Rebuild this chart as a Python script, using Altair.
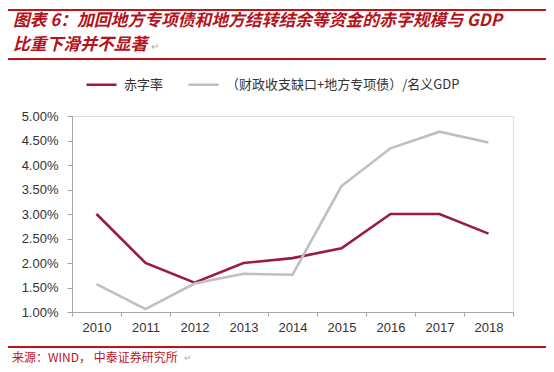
import altair as alt
import pandas as pd

years = ["2010", "2011", "2012", "2013", "2014", "2015", "2016", "2017", "2018"]
deficit_rate = [0.030, 0.020, 0.016, 0.020, 0.021, 0.023, 0.030, 0.030, 0.026]
broad_rate = [0.0157, 0.0106, 0.0158, 0.0178, 0.0176, 0.0357, 0.0434, 0.0468, 0.0446]
series_names = ["赤字率", "（财政收支缺口+地方专项债）/名义GDP"]
series_colors = ["#9B1B3F", "#BFBFBF"]
y_ticks = [0.01, 0.015, 0.02, 0.025, 0.03, 0.035, 0.04, 0.045, 0.05]

title1 = "图表 6：加回地方专项债和地方结转结余等资金的赤字规模与 GDP"
title2 = "比重下滑并不显著"
source = "来源：WIND， 中泰证券研究所"

rows = []
for name, vals in zip(series_names, [deficit_rate, broad_rate]):
    for y, v in zip(years, vals):
        rows.append({"year": y, "value": v, "series": name})
df = pd.DataFrame(rows)

one = pd.DataFrame({"k": [0]})

FONT_CJK = "Noto Sans CJK SC"
RED = "#C0141C"

lines = alt.Chart(df).mark_line(strokeWidth=2.6).encode(
    x=alt.X("year:O", sort=years,
            scale=alt.Scale(type="band", paddingInner=0, paddingOuter=0),
            axis=alt.Axis(title=None, labelAngle=0, tickBand="extent",
                          labelFont="Liberation Sans", labelFontSize=13,
                          labelColor="#333333", labelPadding=5, tickSize=4,
                          domainColor="#A6A6A6", tickColor="#A6A6A6")),
    y=alt.Y("value:Q",
            scale=alt.Scale(domain=[0.01, 0.05], nice=False, zero=False),
            axis=alt.Axis(title=None, values=y_ticks, format=".2%", grid=False,
                          labelFont="Liberation Sans", labelFontSize=13,
                          labelColor="#333333", labelPadding=9, tickSize=5,
                          domainColor="#A6A6A6", tickColor="#A6A6A6")),
    color=alt.Color("series:N",
                    scale=alt.Scale(domain=series_names, range=series_colors),
                    legend=alt.Legend(title=None, orient="none", direction="horizontal",
                                      legendX=13, legendY=-48,
                                      symbolType="stroke", symbolSize=900,
                                      symbolStrokeWidth=2.5, labelOffset=6,
                                      columnPadding=19, labelLimit=0,
                                      labelFont=FONT_CJK, labelFontSize=13,
                                      labelColor="#333333")),
    order=alt.Order("year:O"),
)

def rule(x1, x2, y, color=RED, w=2):
    return alt.Chart(one).mark_rule(color=color, strokeWidth=w).encode(
        x=alt.value(x1), x2=alt.value(x2), y=alt.value(y))

def text(s, x, y, size, color, weight="normal", style="normal", font=FONT_CJK):
    return alt.Chart(one).mark_text(align="left", baseline="middle", fontSize=size,
                                    color=color, fontWeight=weight, fontStyle=style,
                                    font=font).encode(
        x=alt.value(x), y=alt.value(y), text=alt.value(s))

layers = [
    rule(-64, 476, -106),
    text(title1, -59, -95, 16.8, "#B5121B", "bold", "italic"),
    text(title2, -59, -71, 16.8, "#B5121B", "bold", "italic"),
    text("↵", 79, -69, 10, "#AAAAAA"),
    rule(-64, 476, -57),
    lines,
    rule(-64, 476, 231),
    text(source, -60, 241.5, 12, RED),
    text("↵", 112, 242, 9, "#AAAAAA"),
]

chart = alt.layer(*layers).properties(
    width=441, height=196,
    padding={"left": 64, "top": 108, "right": 33, "bottom": 52},
    autosize=alt.AutoSizeParams(type="none"),
).configure_view(stroke=None).configure(background="white")

chart.save("out.html", embed_options={"renderer": "svg", "actions": False})
